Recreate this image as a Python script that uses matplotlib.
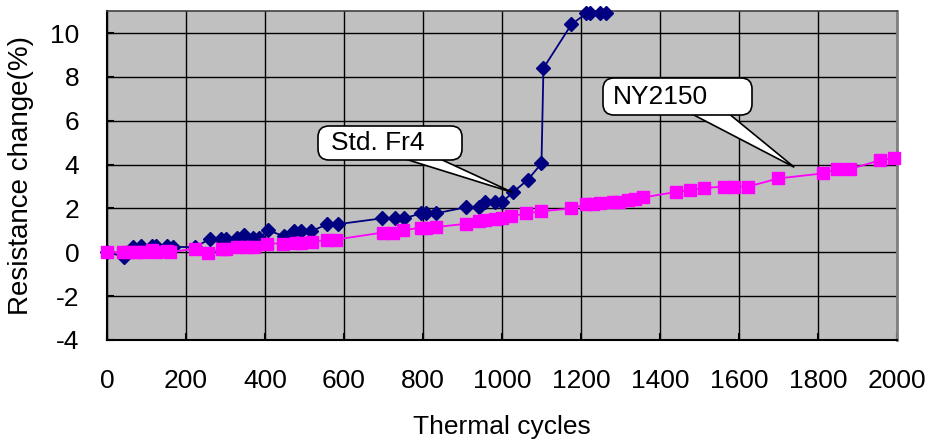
import matplotlib
matplotlib.use("Agg")
import matplotlib.pyplot as plt
from matplotlib.patches import FancyBboxPatch, Polygon

plt.rcParams['font.family'] = ['Liberation Sans', 'DejaVu Sans']
plt.rcParams['axes.unicode_minus'] = False

# Std. Fr4 series
fr4_x = [0, 44, 65, 87, 115, 125, 153, 168, 222, 260, 289, 302, 328, 348, 369, 386,
         408, 449, 474, 492, 517, 558, 584, 697, 728, 753, 796, 808, 834, 908, 943,
         958, 983, 1001, 1027, 1065, 1100, 1105, 1176, 1214, 1222, 1247, 1264]
fr4_y = [0, -0.2, 0.23, 0.27, 0.3, 0.3, 0.28, 0.25, 0.23, 0.6, 0.6, 0.6, 0.63, 0.77, 0.63, 0.63,
         1.0, 0.73, 0.96, 0.96, 0.96, 1.28, 1.28, 1.55, 1.55, 1.55, 1.78, 1.78, 1.78, 2.05, 2.05,
         2.3, 2.3, 2.3, 2.73, 3.3, 4.05, 8.4, 10.4, 10.9, 10.9, 10.9, 10.9]

# NY2150 series
ny_x = [0, 40, 57, 75, 90, 115, 125, 153, 160, 222, 255, 290, 302, 328, 353, 373,
        406, 445, 479, 492, 520, 558, 580, 698, 724, 750, 796, 808, 834, 908, 943,
        958, 983, 1001, 1024, 1061, 1099, 1176, 1214, 1230, 1247, 1280, 1297, 1318,
        1336, 1357, 1440, 1475, 1512, 1561, 1588, 1624, 1700, 1814, 1847, 1882, 1958, 1993]
ny_y = [0, 0, 0, 0, 0.02, 0.12, 0.0, 0.06, 0.0, 0.17, -0.05, 0.17, 0.17, 0.23, 0.23, 0.23,
        0.4, 0.4, 0.43, 0.43, 0.47, 0.58, 0.58, 0.9, 0.9, 1.0, 1.13, 1.13, 1.15, 1.3, 1.43,
        1.46, 1.54, 1.55, 1.64, 1.78, 1.87, 2.0, 2.2, 2.2, 2.23, 2.28, 2.3, 2.37,
        2.42, 2.5, 2.75, 2.83, 2.93, 3.0, 3.0, 3.0, 3.37, 3.6, 3.8, 3.8, 4.2, 4.3]

x_ticks = [0, 200, 400, 600, 800, 1000, 1200, 1400, 1600, 1800, 2000]
y_ticks = [-4, -2, 0, 2, 4, 6, 8, 10]

# callouts: label, point the tail reaches (data)
labels = ["Std. Fr4", "NY2150"]
label_point = [(1027, 2.73), (1740, 3.88)]

fig = plt.figure(figsize=(9.27, 4.45), dpi=100)
ax = fig.add_axes([0.1154, 0.236, 0.8522, 0.739])
ax.set_facecolor('#C0C0C0')

ax.plot(fr4_x, fr4_y, color='#000080', lw=1.3, marker='D', markersize=7.5,
        markeredgecolor='#000080', markerfacecolor='#000080', zorder=3, clip_on=False)
ax.plot(ny_x, ny_y, color='#FF00FF', lw=1.3, marker='s', markersize=8,
        markeredgecolor='#FF00FF', markerfacecolor='#FF00FF', zorder=3, clip_on=False)

ax.set_xlim(0, 2000)
ax.set_ylim(-4, 11)
ax.set_xticks(x_ticks)
ax.set_yticks(y_ticks)
ax.grid(True, color='black', lw=1.0)
ax.set_axisbelow(True)

ax.tick_params(axis='x', direction='in', length=5, width=1.5, pad=21, labelsize=19)
ax.tick_params(axis='y', direction='in', length=5, width=1.5, pad=20, labelsize=19)

for s in ['left', 'bottom']:
    ax.spines[s].set_color('black')
    ax.spines[s].set_linewidth(1.5)
ax.spines['top'].set_color('#404040')
ax.spines['top'].set_linewidth(1.2)
ax.spines['right'].set_color('#808080')
ax.spines['right'].set_linewidth(2)

ax.set_xlabel('Thermal cycles', fontsize=19, labelpad=16)
ax.set_ylabel('Resistance change(%)', fontsize=20)
ax.yaxis.set_label_coords(-0.092, 0.5)

# callout geometry in pixels (box x0, x1, y0(top), y1(bottom), tail base x0, x1)
fig.canvas.draw()
box_geom = [
    dict(box=(318, 462, 126, 160), base=(402, 438), text_x=331),
    dict(box=(603, 752, 78, 115), base=(690, 728), text_x=613),
]
H = 445
for txt, pt, g in zip(labels, label_point, box_geom):
    bx0, bx1, by0, by1 = g['box']
    tip = ax.transData.transform(pt)
    tail = Polygon([(g['base'][0], H - by1 + 2), (g['base'][1], H - by1 + 2), tuple(tip)],
                   closed=True, transform=None, fc='white', ec='black', lw=1.2, zorder=5)
    ax.add_artist(tail)
    box = FancyBboxPatch((bx0 + 10, H - by1 + 10), (bx1 - bx0) - 20, (by1 - by0) - 20,
                         boxstyle='round,pad=10,rounding_size=11', transform=None,
                         fc='white', ec='black', lw=1.2, zorder=6)
    ax.add_artist(box)
    cover = Polygon([(g['base'][0] + 1.5, H - by1 + 1.0), (g['base'][1] - 1.5, H - by1 + 1.0),
                     (g['base'][1] - 1.5, H - by1 + 3), (g['base'][0] + 1.5, H - by1 + 3)],
                    closed=True, transform=None, fc='white', ec='none', zorder=6.5)
    ax.add_artist(cover)
    ax.text(g['text_x'], H - (by0 + by1) / 2, txt, transform=None, ha='left', va='center',
            fontsize=19, zorder=7)

fig.savefig('out.png', dpi=100)
